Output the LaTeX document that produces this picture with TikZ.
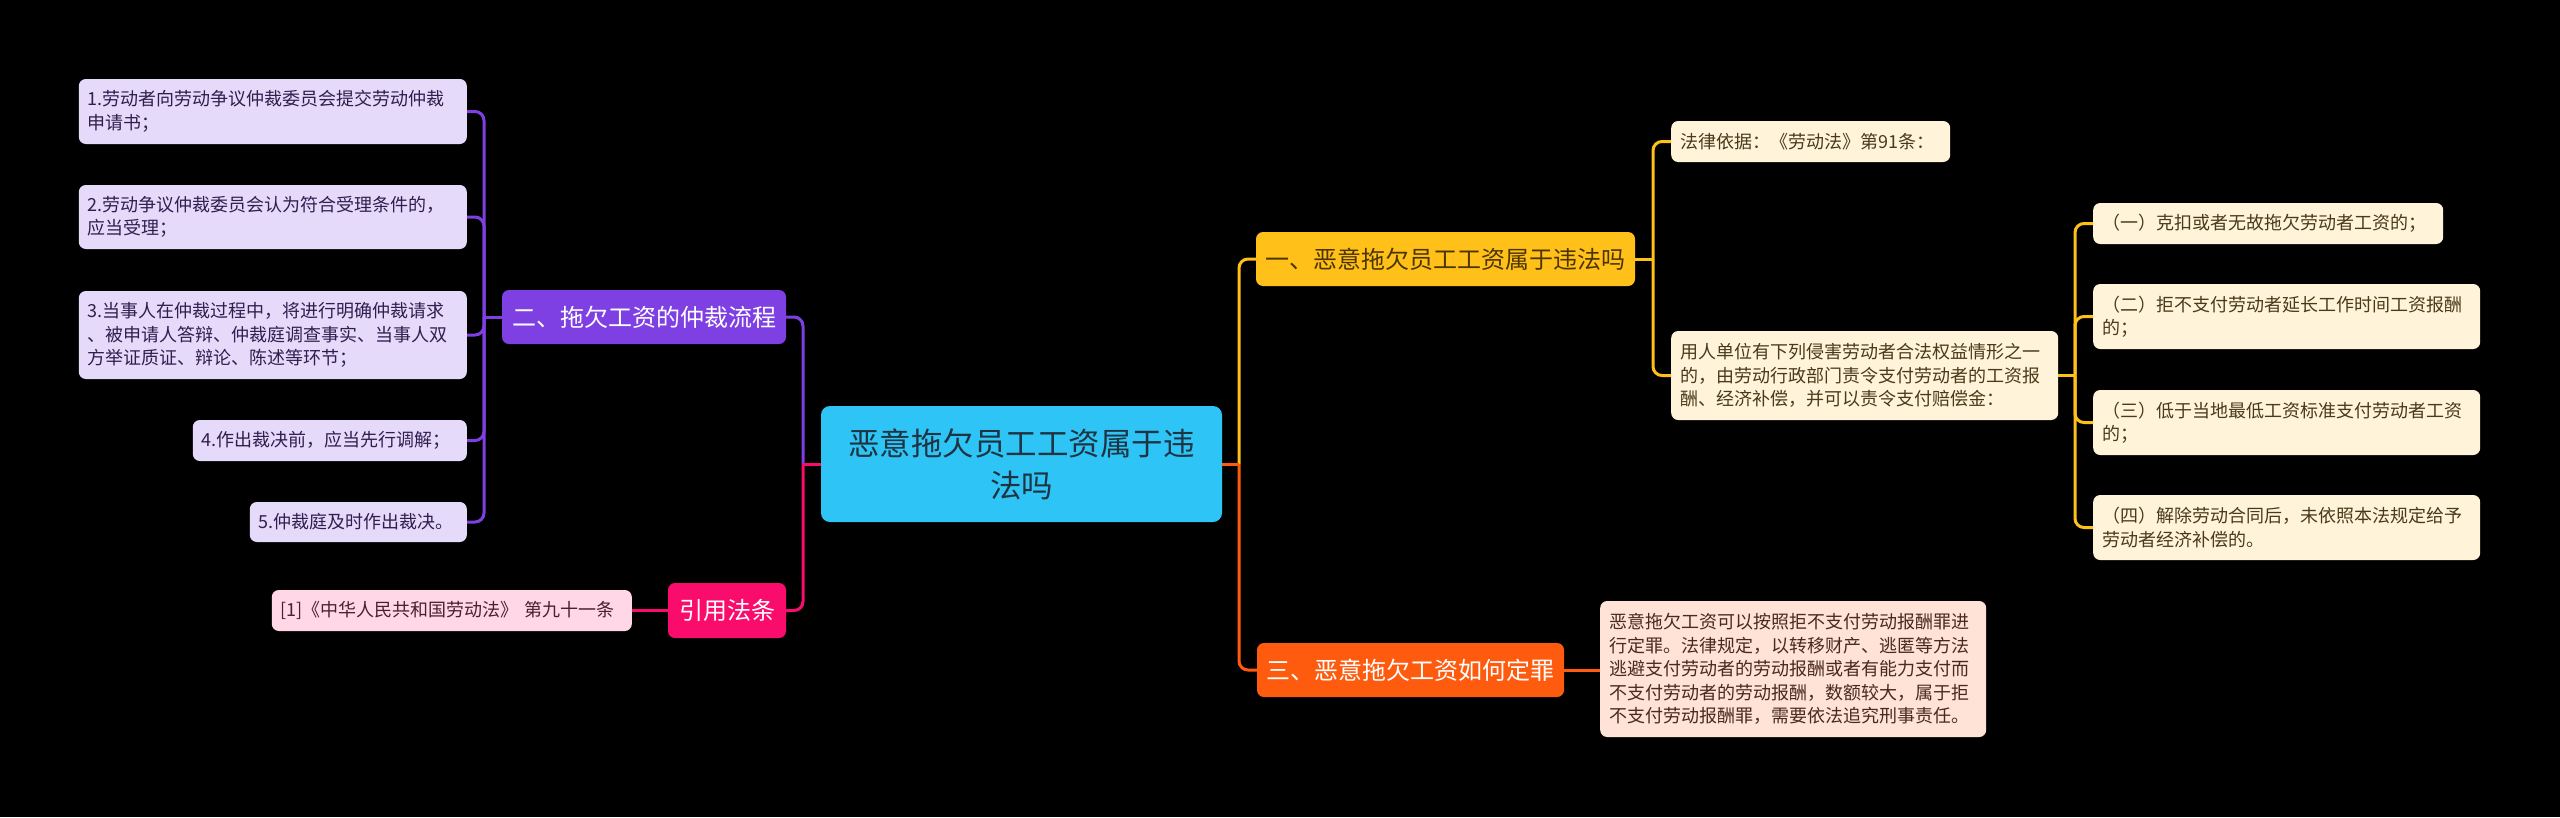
\documentclass[tikz,border=0pt]{standalone}
\usepackage{fontspec}
\setmainfont{Noto Sans CJK SC}
\definecolor{rootfill}{HTML}{2EC5F6}
\definecolor{roottext}{HTML}{1E3442}
\definecolor{cY}{HTML}{FFC01A}
\definecolor{cYtext}{HTML}{4D3500}
\definecolor{cO}{HTML}{FF5B0E}
\definecolor{cP}{HTML}{7E40E2}
\definecolor{cK}{HTML}{FA0C6C}
\definecolor{lPfill}{HTML}{E6DAFA}
\definecolor{lPtext}{HTML}{2E1F4F}
\definecolor{lYfill}{HTML}{FFF4D9}
\definecolor{lYtext}{HTML}{4A3A1C}
\definecolor{lOfill}{HTML}{FFE3D6}
\definecolor{lOtext}{HTML}{4A2A1C}
\definecolor{lKfill}{HTML}{FFD7E6}
\definecolor{lKtext}{HTML}{4A1F30}
\tikzset{
  box/.style={rounded corners=7pt, inner xsep=9pt, inner ysep=0pt},
  leaf/.style={box, align=left, font=\fontsize{18pt}{23.5pt}\selectfont},
  leafP/.style={leaf, fill=lPfill, text=lPtext},
  leafY/.style={leaf, fill=lYfill, text=lYtext},
  leafO/.style={leaf, fill=lOfill, text=lOtext},
  leafK/.style={leaf, fill=lKfill, text=lKtext},
  branch/.style={box, align=center, inner xsep=0pt, minimum height=54pt, font=\fontsize{24pt}{28pt}\selectfont},
  conn/.style={line width=3pt, rounded corners=9pt},
}
\begin{document}
\begin{tikzpicture}[x=1pt,y=-1pt]
\useasboundingbox[fill=black] (0,0) rectangle (2560,817);

% root
\node[fill=rootfill, text=roottext, rounded corners=9pt, inner sep=0pt, minimum width=401pt, minimum height=116pt, text width=383pt, align=center, font=\fontsize{31.5pt}{42pt}\selectfont] (root) at (1021.5,464) {恶意拖欠员工工资属于违\\法吗};

% branches
\node[branch, fill=cY, text=cYtext, minimum width=379pt] (n1) at (1445.5,259) {一、恶意拖欠员工工资属于违法吗};
\node[branch, fill=cO, text=white, minimum width=307pt] (n3) at (1410.5,670) {三、恶意拖欠工资如何定罪};
\node[branch, fill=cP, text=white, minimum width=284pt] (n2) at (644,317) {二、拖欠工资的仲裁流程};
\node[branch, fill=cK, text=white, minimum width=118pt, minimum height=55pt] (n4) at (727,610.5) {引用法条};

% left leaves
\node[leafP, anchor=east, text width=370pt, minimum height=65pt] (l1) at (467,111.5) {1.劳动者向劳动争议仲裁委员会提交劳动仲裁\\申请书；};
\node[leafP, anchor=east, text width=370pt, minimum height=64pt] (l2) at (467,217) {2.劳动争议仲裁委员会认为符合受理条件的，\\应当受理；};
\node[leafP, anchor=east, text width=370pt, minimum height=88pt] (l3) at (467,335) {3.当事人在仲裁过程中，将进行明确仲裁请求\\、被申请人答辩、仲裁庭调查事实、当事人双\\方举证质证、辩论、陈述等环节；};
\node[leafP, anchor=east, text width=256pt, minimum height=41pt] (l4) at (467,440.5) {4.作出裁决前，应当先行调解；};
\node[leafP, anchor=east, text width=199pt, minimum height=40pt] (l5) at (467,522) {5.仲裁庭及时作出裁决。};
\node[leafK, anchor=east, text width=342pt, minimum height=41pt] (r1) at (632,610.5) {[1]《中华人民共和国劳动法》 第九十一条};

% right leaves
\node[leafY, anchor=west, text width=261pt, minimum height=41pt] (a1) at (1671,141.5) {法律依据：《劳动法》第91条：};
\node[leafY, anchor=west, text width=369pt, minimum height=89pt] (a2) at (1671,375.5) {用人单位有下列侵害劳动者合法权益情形之一\\的，由劳动行政部门责令支付劳动者的工资报\\酬、经济补偿，并可以责令支付赔偿金：};
\node[leafY, anchor=west, text width=332pt, minimum height=41pt] (b1) at (2093,223.5) {（一）克扣或者无故拖欠劳动者工资的；};
\node[leafY, anchor=west, text width=369pt, minimum height=65pt] (b2) at (2093,316.5) {（二）拒不支付劳动者延长工作时间工资报酬\\的；};
\node[leafY, anchor=west, text width=369pt, minimum height=65pt] (b3) at (2093,422.5) {（三）低于当地最低工资标准支付劳动者工资\\的；};
\node[leafY, anchor=west, text width=369pt, minimum height=65pt] (b4) at (2093,527.5) {（四）解除劳动合同后，未依照本法规定给予\\劳动者经济补偿的。};
\node[leafO, anchor=west, text width=368pt, minimum height=136pt] (o1) at (1600,669) {恶意拖欠工资可以按照拒不支付劳动报酬罪进\\行定罪。法律规定，以转移财产、逃匿等方法\\逃避支付劳动者的劳动报酬或者有能力支付而\\不支付劳动者的劳动报酬，数额较大，属于拒\\不支付劳动报酬罪，需要依法追究刑事责任。};

% junction coordinates
\coordinate (rj) at (1239,464);
\coordinate (lj) at (803,464);
\coordinate (pj) at (484,317);
\coordinate (yj) at (1653,259);
\coordinate (gj) at (2075,375.5);

% root connectors
\draw[conn, cY] (rj) |- (n1.west);
\draw[conn, cO] (rj) |- (n3.west);
\draw[conn, cO] (root.east) -- (rj);
\draw[conn, cP] (lj) |- (n2.east);
\draw[conn, cK] (lj) |- (n4.east);
\draw[conn, cK] (root.west) -- (lj);

% purple leaves
\draw[conn, cP] (n2.west) -- (pj);
\foreach \t in {l1,l2,l3,l4,l5} { \draw[conn, cP] (pj) |- (\t.east); }

% reference
\draw[conn, cK] (n4.west) -- (r1.east);

% yellow
\draw[conn, cY] (n1.east) -- (yj);
\draw[conn, cY] (yj) |- (a1.west);
\draw[conn, cY] (yj) |- (a2.west);
\draw[conn, cY] (a2.east) -- (gj);
\foreach \t in {b1,b2,b3,b4} { \draw[conn, cY] (gj) |- (\t.west); }

% orange
\draw[conn, cO] (n3.east) -- (n3.east -| o1.west);
\end{tikzpicture}
\end{document}
